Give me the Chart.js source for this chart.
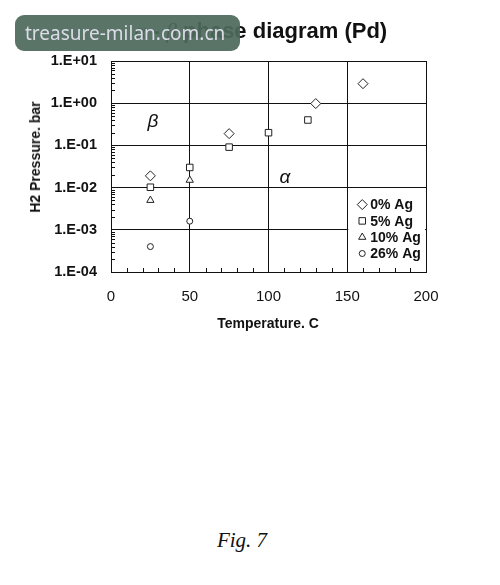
<!DOCTYPE html>
<html>
<head>
<meta charset="utf-8">
<script src="https://cdn.jsdelivr.net/npm/chart.js@4/dist/chart.umd.min.js"></script>
<style>
    body { margin: 0; background: #ffffff; width: 500px; height: 585px; position: relative; overflow: hidden; }
    #grafico { position: absolute; left: 0; top: 0; }
    .txt { position: absolute; color: #111; font-family: "Liberation Sans", Arial, sans-serif; white-space: nowrap; }
    #titulo { left: 0; width: 522px; top: 18px; text-align: center; font-size: 22px; font-weight: bold; }
    #titulo i { font-family: "Liberation Serif", serif; font-weight: normal; }
    #tituloY { left: 35px; top: 157px; font-size: 14px; font-weight: bold; transform: translate(-50%, -50%) rotate(-90deg); }
    #tituloX { left: 268px; top: 323px; font-size: 14px; font-weight: bold; transform: translate(-50%, -50%); }
    .grego { font-size: 19px; font-style: italic; transform: translate(-50%, -50%); }
    #fig { left: 242px; top: 540px; font-family: "Liberation Serif", serif; font-style: italic; font-size: 21px; transform: translate(-50%, -50%); }
    #marca { position: absolute; left: 15px; top: 15px; width: 225px; height: 36px; border-radius: 9px;
             background: rgba(78, 106, 92, 0.93); color: #dcdce8; font-family: "Noto Sans", sans-serif;
             font-size: 19px; line-height: 36px; padding-left: 10px; box-sizing: border-box; }
</style>
</head>
<body>
<canvas id="grafico" width="500" height="340"></canvas>
<div class="txt" id="titulo"><i>α</i> - <i>β</i> phase diagram (Pd)</div>
<div class="txt" id="tituloY">H2 Pressure. bar</div>
<div class="txt" id="tituloX">Temperature. C</div>
<div class="txt grego" style="left:153px; top:121px;">β</div>
<div class="txt grego" style="left:285px; top:177px;">α</div>
<div class="txt" id="fig">Fig. 7</div>
<div id="marca">treasure-milan.com.cn</div>
<script>
// Dados (temperatura em C, pressão em bar)
const series = ['0% Ag', '5% Ag', '10% Ag', '26% Ag'];
const temp0 = [25, 75, 130, 160];
const pres0 = [0.019, 0.19, 0.98, 2.9];
const temp5 = [25, 50, 75, 100, 125];
const pres5 = [0.0102, 0.03, 0.091, 0.2, 0.4];
const temp10 = [25, 50];
const pres10 = [0.005, 0.015];
const temp26 = [25, 50];
const pres26 = [0.0004, 0.0016];
const ticksY = [1e-4, 1e-3, 1e-2, 1e-1, 1, 10];
const ticksX = [0, 50, 100, 150, 200];

const fonte = '"Liberation Sans", Arial, sans-serif';
const corTraco = '#222';

function pontos(xs, ys) {
    return xs.map((x, i) => ({ x: x, y: ys[i] }));
}

function serie(nome, xs, ys, estilo, raio) {
    return {
        label: nome,
        data: pontos(xs, ys),
        pointStyle: estilo,
        pointRadius: raio,
        pointHoverRadius: raio,
        backgroundColor: '#ffffff',
        borderColor: corTraco,
        borderWidth: 1
    };
}

// Formatar rótulos como 1.E+01
function formatoExp(v) {
    const e = Math.round(Math.log10(v));
    const s = e < 0 ? '-' : '+';
    return '1.E' + s + String(Math.abs(e)).padStart(2, '0');
}

// Marcas menores dentro dos eixos e caixa da legenda
const extras = {
    id: 'extras',
    afterDatasetsDraw(chart) {
        const ctx = chart.ctx;
        const a = chart.chartArea;
        const sx = chart.scales.x;
        const sy = chart.scales.y;
        ctx.save();
        ctx.strokeStyle = '#111';
        ctx.lineWidth = 1;
        ctx.beginPath();
        for (let d = -4; d <= 0; d++) {
            for (let k = 2; k <= 9; k++) {
                const y = Math.round(sy.getPixelForValue(k * Math.pow(10, d))) + 0.5;
                ctx.moveTo(a.left, y);
                ctx.lineTo(a.left + 4, y);
            }
        }
        for (let t = 10; t < 200; t += 10) {
            if (t % 50 === 0) continue;
            const x = Math.round(sx.getPixelForValue(t)) + 0.5;
            ctx.moveTo(x, a.bottom);
            ctx.lineTo(x, a.bottom - 4);
        }
        ctx.stroke();

        // Legenda dentro da área do gráfico
        const lx = sx.getPixelForValue(150) + 1;
        const top = sy.getPixelForValue(1e-2) + 2;
        ctx.fillStyle = '#ffffff';
        ctx.fillRect(lx, top, a.right - lx - 1, a.bottom - top - 6);
        ctx.font = 'bold 14px ' + fonte;
        ctx.textBaseline = 'middle';
        chart.data.datasets.forEach((ds, i) => {
            const y = top + 15 + i * 16.3;
            ctx.strokeStyle = corTraco;
            ctx.fillStyle = '#ffffff';
            Chart.helpers.drawPoint(ctx, {
                pointStyle: ds.pointStyle,
                radius: ds.pointRadius,
                borderWidth: 1,
                rotation: 0
            }, lx + 14, y);
            ctx.fillStyle = '#111';
            ctx.fillText(ds.label, lx + 22, y + 1);
        });
        ctx.restore();
    }
};

new Chart(document.getElementById('grafico').getContext('2d'), {
    type: 'scatter',
    data: {
        datasets: [
            serie(series[0], temp0, pres0, 'rectRot', 5),
            serie(series[1], temp5, pres5, 'rect', 4.6),
            serie(series[2], temp10, pres10, 'triangle', 4.2),
            serie(series[3], temp26, pres26, 'circle', 3)
        ]
    },
    options: {
        responsive: false,
        animation: false,
        events: [],
        layout: { padding: { left: 0, top: 61, right: 74, bottom: 0 } },
        plugins: {
            legend: { display: false },
            tooltip: { enabled: false }
        },
        scales: {
            x: {
                type: 'linear',
                min: 0,
                max: 200,
                afterBuildTicks: (s) => { s.ticks = ticksX.map(v => ({ value: v })); },
                afterFit: (s) => { s.height = 68; },
                grid: { color: '#111', lineWidth: 1, drawTicks: false },
                border: { color: '#111', width: 1 },
                ticks: { color: '#111', padding: 16, font: { family: fonte, size: 15 }, maxRotation: 0 }
            },
            y: {
                type: 'logarithmic',
                min: 1e-4,
                max: 10,
                afterBuildTicks: (s) => { s.ticks = ticksY.map(v => ({ value: v })); },
                afterFit: (s) => { s.width = 111; },
                grid: { color: '#111', lineWidth: 1, drawTicks: false },
                border: { color: '#111', width: 1 },
                ticks: {
                    color: '#111',
                    padding: 14,
                    font: { family: fonte, size: 14.5, weight: 'bold' },
                    callback: (v) => formatoExp(v)
                }
            }
        }
    },
    plugins: [extras]
});
</script>
</body>
</html>
